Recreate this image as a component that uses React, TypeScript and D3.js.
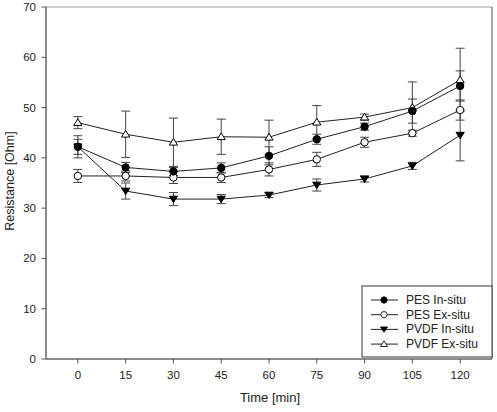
import React from "react";
import * as d3 from "d3";

// sampling times and measured resistance (mean, std) per membrane / cleaning mode
const times = [0, 15, 30, 45, 60, 75, 90, 105, 120];

const pesIn = [42.2, 38.1, 37.3, 38.0, 40.4, 43.7, 46.2, 49.3, 54.3];
const pesInErr = [1.5, 1.0, 0.8, 1.0, 1.8, 1.0, 0.7, 2.4, 3.0];

const pesEx = [36.4, 36.4, 36.1, 36.1, 37.7, 39.7, 43.1, 44.9, 49.5];
const pesExErr = [1.3, 1.0, 1.2, 1.0, 1.3, 1.4, 1.0, 0.6, 2.0];

const pvdfIn = [42.2, 33.4, 31.8, 31.8, 32.6, 34.6, 35.8, 38.4, 44.5];
const pvdfInErr = [2.2, 1.6, 1.3, 0.9, 0.5, 1.2, 0.6, 0.7, 5.1];

const pvdfEx = [47.0, 44.7, 43.1, 44.2, 44.1, 47.1, 48.1, 50.0, 55.5];
const pvdfExErr = [1.2, 4.6, 4.8, 3.5, 3.4, 3.3, 0.6, 5.1, 6.3];

const seriesNames = ["PES In-situ", "PES Ex-situ", "PVDF In-situ", "PVDF Ex-situ"];
const yTicks = [0, 10, 20, 30, 40, 50, 60, 70];

const series = [
  { name: seriesNames[0], values: pesIn, errs: pesInErr, symbol: "circle", filled: true },
  { name: seriesNames[1], values: pesEx, errs: pesExErr, symbol: "circle", filled: false },
  { name: seriesNames[2], values: pvdfIn, errs: pvdfInErr, symbol: "down", filled: true },
  { name: seriesNames[3], values: pvdfEx, errs: pvdfExErr, symbol: "up", filled: false },
];

// symbols are painted back to front so the PES In-situ dots sit on top
const drawOrder = [3, 2, 1, 0].map(i => series[i]);

const FONT = "'Liberation Sans', Arial, sans-serif";

const Marker = ({ x, y, symbol, filled }: any) => {
  const fill = filled ? "#000" : "#fff";
  if (symbol === "circle") {
    return <circle cx={x} cy={y} r={3.7} fill={fill} stroke="#000" strokeWidth={1} />;
  }
  const s = 4.1;
  const pts =
    symbol === "down"
      ? `${x - s},${y - s * 0.7} ${x + s},${y - s * 0.7} ${x},${y + s * 0.85}`
      : `${x - s},${y + s * 0.7} ${x + s},${y + s * 0.7} ${x},${y - s * 0.95}`;
  return <polygon points={pts} fill={fill} stroke="#000" strokeWidth={1} />;
};

export default function App() {
  const left = 46;
  const right = 492;
  const top = 7;
  const bottom = 359;

  const x = d3.scaleLinear().domain([-10, 130]).range([left, right]);
  const y = d3.scaleLinear().domain([0, 70]).range([bottom, top]);

  const line = d3
    .line<number>()
    .x((_, i) => x(times[i]))
    .y(d => y(d));

  const cap = 4.5;

  return (
    <svg
      width={497}
      height={412}
      style={{ position: "absolute", left: 0, top: 0, background: "#fff" }}
      fontFamily={FONT}
    >
      {/* frame */}
      <line x1={left} x2={right} y1={top} y2={top} stroke="#999" />
      <line x1={right} x2={right} y1={top} y2={bottom} stroke="#888" strokeWidth={1.5} />
      <line x1={left} x2={left} y1={top} y2={bottom} stroke="#666" strokeWidth={1.5} />
      <line x1={left} x2={right} y1={bottom} y2={bottom} stroke="#666" strokeWidth={1.5} />

      {/* y axis */}
      {yTicks.map(t => (
        <g key={t}>
          <line x1={left - 4.5} x2={left} y1={y(t)} y2={y(t)} stroke="#555" />
          <text x={36} y={y(t) + 4} textAnchor="end" fontSize={11.5} fill="#222">
            {t}
          </text>
        </g>
      ))}
      <text
        transform={`translate(13.5, ${(top + bottom) / 2 - 2}) rotate(-90)`}
        textAnchor="middle"
        fontSize={12.5}
        fill="#222"
      >
        Resistance [Ohm]
      </text>

      {/* x axis */}
      {times.map(t => (
        <g key={t}>
          <line x1={x(t)} x2={x(t)} y1={bottom} y2={bottom + 4.5} stroke="#555" />
          <text x={x(t)} y={bottom + 20} textAnchor="middle" fontSize={11.5} fill="#222">
            {t}
          </text>
        </g>
      ))}
      <text x={(left + right) / 2 + 1} y={bottom + 43} textAnchor="middle" fontSize={13} fill="#222">
        Time [min]
      </text>

      {/* error bars */}
      {series.map(s =>
        s.values.map((v, i) => {
          const cx = x(times[i]);
          const y1 = y(v + s.errs[i]);
          const y2 = y(v - s.errs[i]);
          return (
            <g key={s.name + i} stroke="#444" strokeWidth={1}>
              <line x1={cx} x2={cx} y1={y1} y2={y2} />
              <line x1={cx - cap} x2={cx + cap} y1={y1} y2={y1} />
              <line x1={cx - cap} x2={cx + cap} y1={y2} y2={y2} />
            </g>
          );
        })
      )}

      {/* lines */}
      {series.map(s => (
        <path key={s.name} d={line(s.values) || ""} fill="none" stroke="#222" strokeWidth={1} />
      ))}

      {/* symbols */}
      {drawOrder.map(s =>
        s.values.map((v, i) => (
          <Marker key={s.name + i} x={x(times[i])} y={y(v)} symbol={s.symbol} filled={s.filled} />
        ))
      )}

      {/* legend */}
      <rect x={362} y={286} width={130} height={71} fill="#fff" stroke="#333" strokeWidth={1} />
      {series.map((s, i) => {
        const ly = 300 + i * 14.7;
        return (
          <g key={s.name}>
            <line x1={371} x2={398} y1={ly} y2={ly} stroke="#222" />
            <g transform={`translate(${384},${ly}) scale(0.85) translate(${-384},${-ly})`}>
              <Marker x={384} y={ly} symbol={s.symbol} filled={s.filled} />
            </g>
            <text x={406} y={ly + 4} fontSize={12} fill="#222">
              {s.name}
            </text>
          </g>
        );
      })}
    </svg>
  );
}
